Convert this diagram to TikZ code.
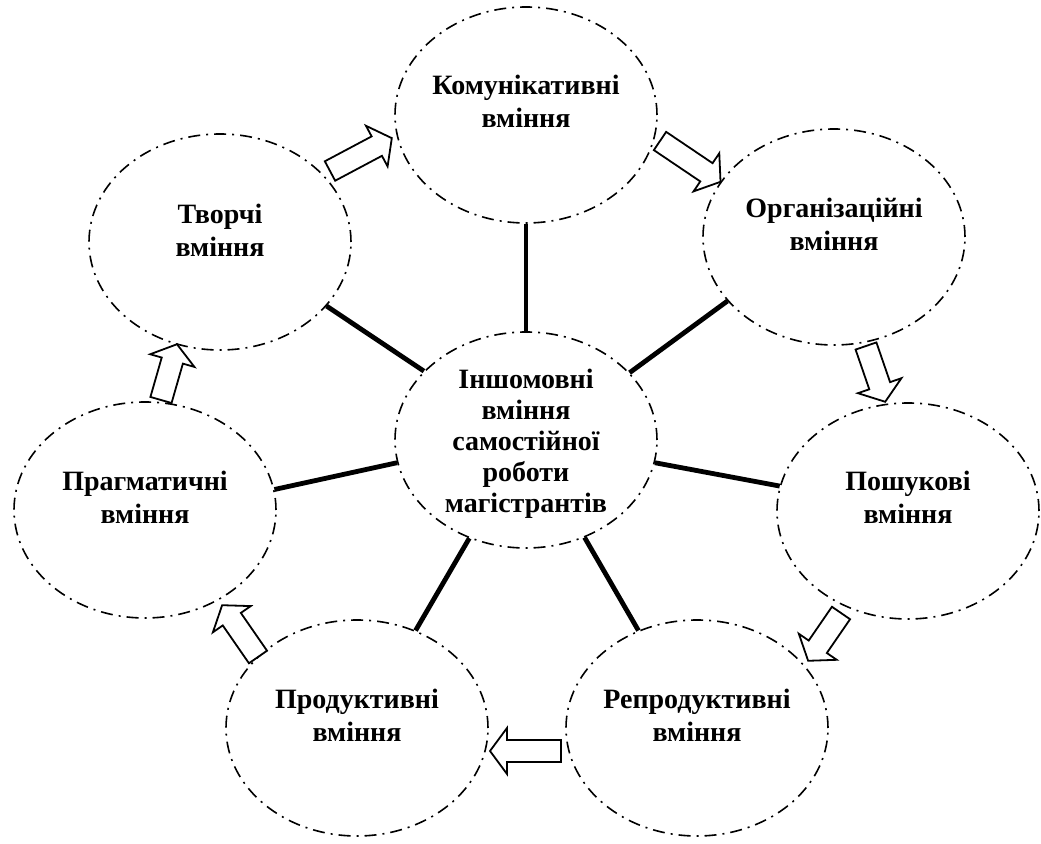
\documentclass[tikz,border=0pt]{standalone}
\usepackage{fontspec}
\setmainfont{Liberation Serif}
\usetikzlibrary{shapes.geometric}
\begin{document}
\begin{tikzpicture}[x=0.5pt,y=-0.5pt,
  oval/.style={ellipse, draw, line width=0.8pt,
    dash pattern=on 6pt off 3pt on 1pt off 3pt,
    minimum width=131pt, minimum height=108pt, inner sep=0pt},
  lbl/.style={font=\bfseries\fontsize{14}{16.5}\selectfont, align=center},
  spoke/.style={line width=2.4pt},
  pics/blockarrow/.style={code={
    \draw[line width=0.9pt, line join=miter, fill=white]
      (0,-11) -- ({#1-17},-11) -- ({#1-17},-23) -- (#1,0)
      -- ({#1-17},23) -- ({#1-17},11) -- (0,11) -- cycle;}}
]
\useasboundingbox (0,0) rectangle (1041,844);

% ovals
\node[oval] (c)    at (526,440) {};
\node[oval] (kom)  at (526,115) {};
\node[oval] (org)  at (834,237) {};
\node[oval] (pos)  at (908,511) {};
\node[oval] (rep)  at (697,728) {};
\node[oval] (prod) at (357,728) {};
\node[oval] (prag) at (145,510) {};
\node[oval] (tv)   at (220,242) {};

% labels
\node[lbl, font=\bfseries\fontsize{14}{15.5}\selectfont] (tc) at (526,444)
  {Іншомовні\\вміння\\самостійної\\роботи\\магістрантів};
\node[lbl] (tkom)  at (526,101) {Комунікативні\\вміння};
\node[lbl] (torg)  at (834,224) {Організаційні\\вміння};
\node[lbl] (tpos)  at (908,497) {Пошукові\\вміння};
\node[lbl] (trep)  at (697,715) {Репродуктивні\\вміння};
\node[lbl] (tprod) at (357,715) {Продуктивні\\вміння};
\node[lbl] (tprag) at (145,497) {Прагматичні\\вміння};
\node[lbl] (ttv)   at (220,230) {Творчі\\вміння};

% spokes from the centre
\draw[spoke] (c.north) -- (kom.south);
\draw[spoke] (c.33.7) -- (org.211.7);
\draw[spoke] (c.-10.1) -- (pos.169.8);
\draw[spoke] (c.-59.8) -- (rep.121.6);
\draw[spoke] (c.-120.6) -- (prod.59.7);
\draw[spoke] (c.190.1) -- (prag.9.8);
\draw[spoke] (c.146.6) -- (tv.-31.7);

% hollow arrows around the ring
\pic[rotate=28]     at (330,171) {blockarrow=70};
\pic[rotate=-34]    at (660,141) {blockarrow=73};
\pic[rotate=-71]    at (866,346) {blockarrow=59};
\pic[rotate=-124.5] at (841,613) {blockarrow=58};
\pic[rotate=180]    at (561,751) {blockarrow=71};
\pic[rotate=124.7]  at (258,657) {blockarrow=63};
\pic[rotate=74]     at (161,400) {blockarrow=58};
\end{tikzpicture}
\end{document}
